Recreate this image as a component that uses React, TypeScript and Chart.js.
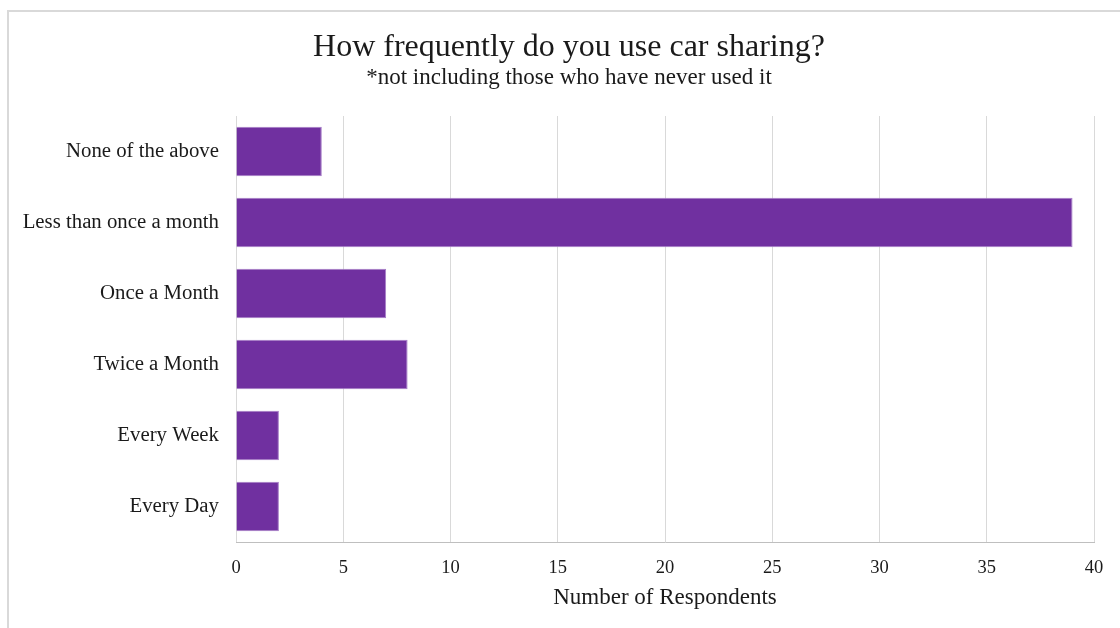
import React, { useEffect, useRef } from "react";
import { Chart, registerables } from "chart.js";

Chart.register(...registerables);

const categories = [
  "None of the above",
  "Less than once a month",
  "Once a Month",
  "Twice a Month",
  "Every Week",
  "Every Day",
];
const respondents = [4, 39, 7, 8, 2, 2];
const xTicks = [0, 5, 10, 15, 20, 25, 30, 35, 40];

const titleText = "How frequently do you use car sharing?";
const subtitleText = "*not including those who have never used it";
const xAxisTitle = "Number of Respondents";

const FONT = "'Liberation Serif', 'Times New Roman', serif";

const headerPlugin = {
  id: "header",
  afterDraw(chart: any) {
    const ctx = chart.ctx;
    ctx.save();
    ctx.fillStyle = "#1a1a1a";
    ctx.textAlign = "center";
    ctx.textBaseline = "middle";
    ctx.font = `32px ${FONT}`;
    ctx.fillText(titleText, 569, 48);
    ctx.font = `23px ${FONT}`;
    ctx.fillText(subtitleText, 569, 78);
    ctx.restore();
  },
};

export default function App() {
  const ref = useRef<HTMLCanvasElement | null>(null);

  useEffect(() => {
    if (!ref.current) return;
    const chart = new Chart(ref.current, {
      type: "bar",
      data: {
        labels: categories,
        datasets: [
          {
            data: respondents,
            backgroundColor: "#7030A0",
            borderColor: "#a57cc6",
            borderWidth: 1,
            barPercentage: 0.7,
            categoryPercentage: 1,
          },
        ],
      },
      plugins: [headerPlugin],
      options: {
        indexAxis: "y",
        animation: false,
        responsive: false,
        maintainAspectRatio: false,
        layout: { padding: { left: 0, right: 26, top: 116, bottom: 0 } },
        plugins: {
          legend: { display: false },
          tooltip: { enabled: false },
          title: { display: false },
          subtitle: { display: false },
        },
        scales: {
          x: {
            type: "linear",
            min: 0,
            max: 40,
            afterBuildTicks: (scale: any) => {
              scale.ticks = xTicks.map((v) => ({ value: v }));
            },
            afterFit: (scale: any) => {
              scale.height = 86;
            },
            grid: {
              color: "#d9d9d9",
              lineWidth: 1,
              drawTicks: false,
            },
            border: { display: true, color: "#bfbfbf", width: 1 },
            ticks: {
              color: "#1a1a1a",
              font: { family: FONT, size: 18.5 },
              padding: 15,
            },
            title: {
              display: true,
              text: xAxisTitle,
              color: "#1a1a1a",
              font: { family: FONT, size: 23, lineHeight: 1.2 },
              padding: { top: 0, bottom: 16 },
            },
          },
          y: {
            afterFit: (scale: any) => {
              scale.width = 236;
            },
            grid: { display: false, drawTicks: false },
            border: { display: false },
            ticks: {
              color: "#1a1a1a",
              font: { family: FONT, size: 20.8 },
              padding: 17,
            },
          },
        },
      },
    });
    return () => chart.destroy();
  }, []);

  return (
    <div style={{ position: "fixed", left: 0, top: 0, width: 1120, height: 628, background: "#fff", overflow: "hidden" }}>
      <div
        style={{
          position: "absolute",
          left: 7,
          top: 10,
          width: 1130,
          height: 640,
          border: "2px solid #d9d9d9",
          boxSizing: "border-box",
        }}
      />
      <canvas ref={ref} width={1120} height={628} style={{ position: "absolute", left: 0, top: 0 }} />
    </div>
  );
}
